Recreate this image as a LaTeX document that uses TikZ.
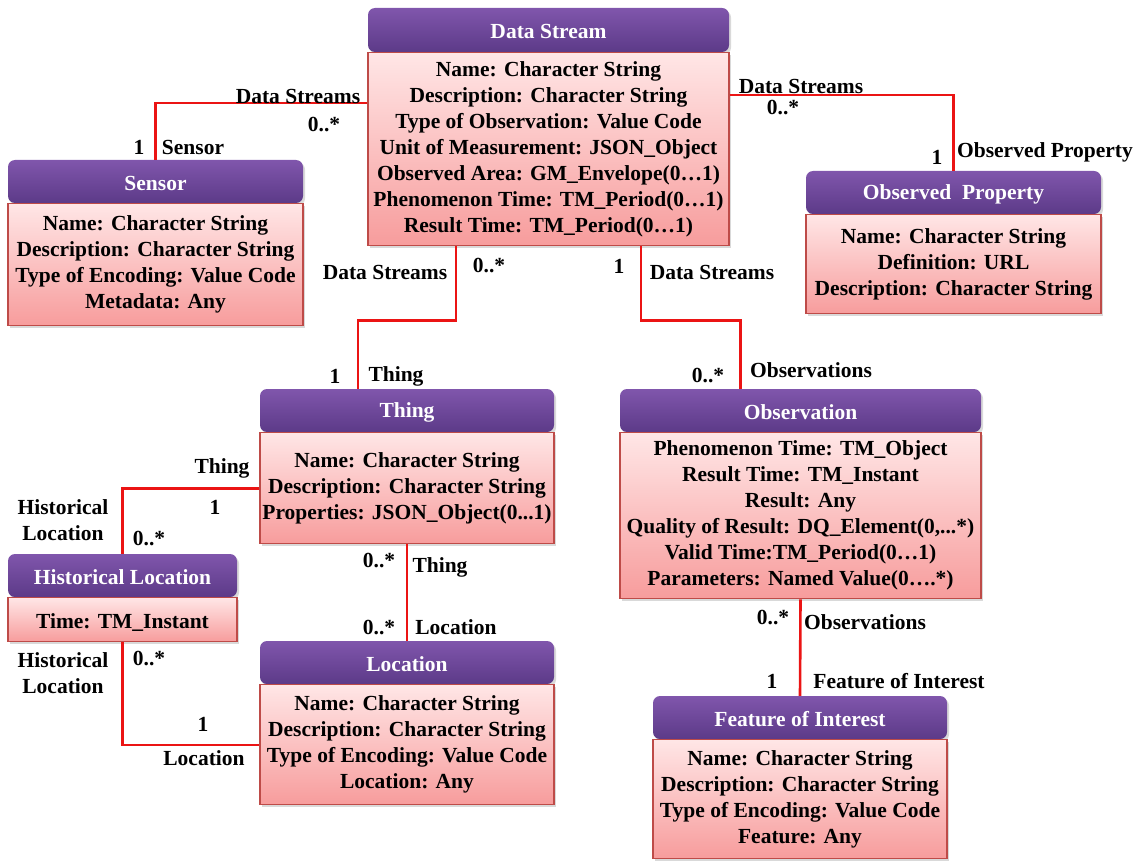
\documentclass[tikz,border=0pt]{standalone}
\usepackage{fontspec}
\setmainfont{Liberation Serif}
\usetikzlibrary{positioning,calc,shadows}
\definecolor{headtop}{RGB}{128,86,172}
\definecolor{headbot}{RGB}{92,58,136}
\definecolor{bodytop}{RGB}{255,230,230}
\definecolor{bodybot}{RGB}{247,156,156}
\definecolor{bodyline}{RGB}{190,75,72}
\definecolor{assocred}{RGB}{235,20,20}
\newcommand{\umlfont}{\fontsize{21.5}{26}\selectfont\bfseries}
\tikzset{
  boxshadow/.style={drop shadow={shadow xshift=2pt, shadow yshift=-2.5pt, opacity=.3}},
  classhead/.style={rounded corners=7pt, top color=headtop, bottom color=headbot, text=white, font=\umlfont, inner sep=0pt, boxshadow, execute at begin node=\rule{0pt}{18pt}},
  classbody/.style={draw=bodyline, line width=1.2pt, top color=bodytop, bottom color=bodybot, align=center, font=\umlfont, inner sep=0pt, boxshadow, execute at begin node=\rule{0pt}{21pt}},
  assoc/.style={draw=assocred, line width=2.6pt},
  role/.style={font=\umlfont, align=center, inner sep=0pt}
}
\begin{document}
\begin{tikzpicture}[x=1pt, y=-1pt]
\useasboundingbox (0,0) rectangle (1140,861);

% classes
\node[classhead, minimum width=361pt, minimum height=44pt] (dsHead) at (548.5,30) {Data Stream};
\node[classbody, minimum width=361pt, minimum height=193pt, below=0pt of dsHead] (dsBody) {Name: Character String\\Description: Character String\\Type of Observation: Value Code\\Unit of Measurement: JSON\_Object\\Observed Area: GM\_Envelope(0…1)\\Phenomenon Time: TM\_Period(0…1)\\Result Time: TM\_Period(0…1)};

\node[classhead, minimum width=295pt, minimum height=43pt] (senHead) at (155.5,181.5) {Sensor};
\node[classbody, minimum width=295pt, minimum height=122pt, below=0pt of senHead] (senBody) {Name: Character String\\Description: Character String\\Type of Encoding: Value Code\\Metadata: Any};

\node[classhead, minimum width=295pt, minimum height=43pt] (opHead) at (953.5,192.5) {Observed~ Property};
\node[classbody, minimum width=295pt, minimum height=99pt, below=0pt of opHead] (opBody) {Name: Character String\\Definition: URL\\Description: Character String};

\node[classhead, minimum width=294pt, minimum height=43pt] (thingHead) at (407,410.5) {Thing};
\node[classbody, minimum width=294pt, minimum height=111pt, below=0pt of thingHead] (thingBody) {Name: Character String\\Description: Character String\\Properties: JSON\_Object(0...1)};

\node[classhead, minimum width=361pt, minimum height=43pt] (obsHead) at (800.5,410.5) {Observation};
\node[classbody, minimum width=361pt, minimum height=166pt, below=0pt of obsHead] (obsBody) {Phenomenon Time: TM\_Object\\Result Time: TM\_Instant\\Result: Any\\Quality of Result: DQ\_Element(0,...*)\\Valid Time:TM\_Period(0…1)\\Parameters: Named Value(0….*)};

\node[classhead, minimum width=229pt, minimum height=43pt] (hlHead) at (122.5,575.5) {Historical Location};
\node[classbody, minimum width=229pt, minimum height=44pt, below=0pt of hlHead] (hlBody) {Time: TM\_Instant};

\node[classhead, minimum width=294pt, minimum height=43pt] (locHead) at (407,662.5) {Location};
\node[classbody, minimum width=294pt, minimum height=120pt, below=0pt of locHead] (locBody) {Name: Character String\\Description: Character String\\Type of Encoding: Value Code\\Location: Any};

\node[classhead, minimum width=294pt, minimum height=43pt] (foiHead) at (800,717.5) {Feature of Interest};
\node[classbody, minimum width=294pt, minimum height=119pt, below=0pt of foiHead] (foiBody) {Name: Character String\\Description: Character String\\Type of Encoding: Value Code\\Feature: Any};

% associations
\coordinate (dsSen) at ($(dsBody.north west)+(0,51)$);
\coordinate (dsOp) at ($(dsBody.north east)+(0,43)$);
\coordinate (dsThing) at ($(dsBody.south)+(-92.5,0)$);
\coordinate (dsObs) at ($(dsBody.south)+(92.5,0)$);
\coordinate (thingDs) at ($(thingHead.north)+(-49,0)$);
\coordinate (obsDs) at ($(obsHead.north)+(-60,0)$);
\draw[assoc] (senHead.north) |- (dsSen);
\draw[assoc] (dsOp) -| (opHead.north);
\draw[assoc] (dsThing) -- ++(0,74) -| (thingDs);
\draw[assoc] (dsObs) -- ++(0,74) -| (obsDs);
\draw[assoc] (thingBody.west) -| (hlHead.north);
\draw[assoc] (thingBody.south) -- (locHead.north);
\draw[assoc] (hlBody.south) |- (locBody.west);
\draw[assoc] (obsBody.south) -- (foiHead.north);

% role names and multiplicities
\foreach \n/\x/\y/\txt in {r1/298/96/Data Streams, r2/324/125/0..*, r3/139/147/1, r4/193/147/Sensor,
    r5/801/86/Data Streams, r6/783/108/0..*, r7/937/157/1, r8/1045/152/Observed Property,
    r9/385/272/Data Streams, r10/489/266/0..*, r11/619/266/1, r12/712/272/Data Streams,
    r13/335/376/1, r14/396/376/Thing, r15/708/376/0..*, r16/811/370/Observations,
    r17/222/468/Thing, r18/215/507/1, r19/63/520/{Historical\\Location}, r20/149/538/0..*,
    r21/63/673/{Historical\\Location}, r22/149/658/0..*, r23/203/724/1, r24/204/758/Location,
    r25/379/560/0..*, r26/440/567/Thing, r27/379/627/0..*, r28/456/627/Location,
    r29/773/617/0..*, r30/865/622/Observations, r31/772/681/1, r32/899/681/Feature of Interest} {
  \node[role] (\n) at (\x,\y) {\txt};
}
\end{tikzpicture}
\end{document}
